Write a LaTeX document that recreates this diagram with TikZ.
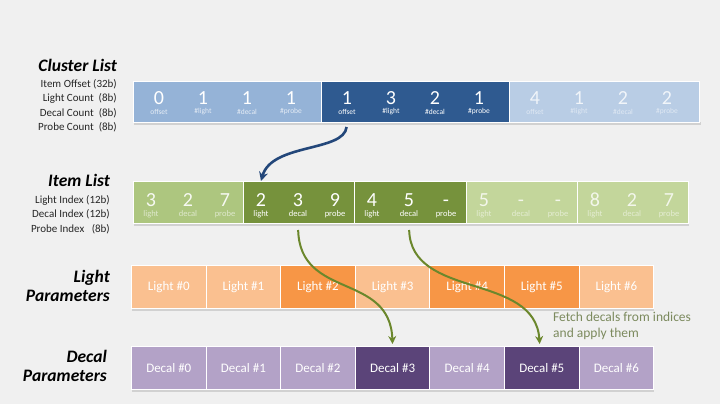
\documentclass[tikz,border=0pt]{standalone}
\usepackage{fontspec}
\setmainfont{Carlito}
\usetikzlibrary{arrows.meta}
\definecolor{bg}{HTML}{F0F0F0}
\definecolor{cA}{HTML}{95B3D7}
\definecolor{cB}{HTML}{2F5A90}
\definecolor{cC}{HTML}{B9CDE5}
\definecolor{iA}{HTML}{ADC67F}
\definecolor{iB}{HTML}{76923C}
\definecolor{iC}{HTML}{C3D69B}
\definecolor{lA}{HTML}{FAC090}
\definecolor{lB}{HTML}{F79646}
\definecolor{dA}{HTML}{B3A2C7}
\definecolor{dB}{HTML}{5B4479}
\definecolor{arB}{HTML}{23477A}
\definecolor{arG}{HTML}{6B872C}
\definecolor{note}{HTML}{7C8A5E}
\tikzset{
  grp/.style={draw=white, line width=1pt, anchor=north west, inner sep=0pt},
  num/.style={text=white, font=\fontsize{20}{20}\selectfont, inner sep=0pt, anchor=base},
  lab/.style={text=white, font=\fontsize{7.5}{8}\selectfont, inner sep=0pt},
  cell/.style={grp, minimum width=74.6pt, minimum height=43pt, text=white, font=\fontsize{13}{14}\selectfont},
  ttl/.style={anchor=east, font=\fontsize{17.5}{19}\bfseries\itshape\selectfont, align=right, inner sep=0pt},
  sublab/.style={anchor=east, font=\fontsize{11}{14.5}\selectfont, align=right, inner sep=0pt, text=black!85},
  shad/.style={fill=black!18},
}
\begin{document}
\begin{tikzpicture}[x=1pt,y=-1pt]
\fill[bg] (0,0) rectangle (720,404);
\useasboundingbox (0,0) rectangle (720,404);

% ---------- Cluster List ----------
\node[ttl] (tcl) at (117,65) {Cluster List};
\node[sublab] (scl) at (117,105.5) {Item Offset (32b)\\Light Count\ \ (8b)\\Decal Count\ \ (8b)\\Probe Count\ \ (8b)};
\fill[shad] (134,122) rectangle (701,125);
\node[grp, fill=cA, minimum width=188pt, minimum height=41pt] (cg1) at (133,81) {};
\node[grp, fill=cB, minimum width=188pt, minimum height=41pt] (cg2) at (321,81) {};
\node[grp, fill=cC, minimum width=190pt, minimum height=41pt] (cg3) at (509,81) {};
\foreach \g/\gx/\op/\vals in {1/133/1/{0,1,1,1}, 2/321/1/{1,3,2,1}, 3/509/0.8/{4,1,2,2}}{
  \foreach \v [count=\i from 0] in \vals {
    \node[num, opacity=\op] (cg\g n\i) at (\gx+26+44*\i,104) {\v};
  }
}
\foreach \g/\gx/\op in {1/133/0.75, 2/321/1, 3/509/0.55}{
  \foreach \t [count=\i from 0] in {offset,\#light,\#decal,\#probe}{
    \node[lab, opacity=\op] (cg\g l\i) at (\gx+26+44*\i,112) {\t};
  }
}

% ---------- Item List ----------
\node[ttl] (til) at (110,180) {Item List};
\node[sublab] (sil) at (110,214.5) {Light Index (12b)\\Decal Index (12b)\\Probe Index\ \ \ (8b)};
\fill[shad] (134,223) rectangle (689,226);
\foreach \g/\gx/\col/\w in {1/133/iA/110, 2/243/iB/111, 3/354/iB/112, 4/466/iC/111, 5/577/iC/111}{
  \node[grp, fill=\col, minimum width=\w pt, minimum height=42pt] (ig\g) at (\gx,181) {};
}
\foreach \g/\gx/\op/\vals in {1/133/0.9/{3,2,7}, 2/243/1/{2,3,9}, 3/354/1/{4,5,-}, 4/466/0.8/{5,-,-}, 5/577/0.8/{8,2,7}}{
  \foreach \v [count=\i from 0] in \vals {
    \node[num, opacity=\op] (ig\g n\i) at (\gx+18+37*\i,206) {\v};
  }
}
\foreach \g/\gx/\op in {1/133/0.6, 2/243/1, 3/354/1, 4/466/0.55, 5/577/0.55}{
  \node[lab, font=\fontsize{8.5}{9}\selectfont, opacity=\op] (ig\g l) at (\gx+18,214) {light};
  \node[lab, font=\fontsize{8.5}{9}\selectfont, opacity=\op] (ig\g d) at (\gx+55,214) {decal};
  \node[lab, font=\fontsize{8.5}{9}\selectfont, opacity=\op] (ig\g p) at (\gx+92,214) {probe};
}

% ---------- Light Parameters ----------
\node[ttl] (tlp) at (110,285.5) {Light\\Parameters};
\fill[shad] (132,308) rectangle (654,311);
\foreach \i/\col in {0/lA,1/lA,2/lB,3/lA,4/lB,5/lB,6/lA}{
  \node[cell, fill=\col] (l\i) at (131+74.6*\i,265) {Light \#\i};
}

% ---------- Decal Parameters ----------
\node[ttl] (tdp) at (107,366) {Decal\\Parameters};
\fill[shad] (132,389) rectangle (654,392);
\foreach \i/\col in {0/dA,1/dA,2/dA,3/dB,4/dA,5/dB,6/dA}{
  \node[cell, fill=\col] (d\i) at (131+74.6*\i,346) {Decal \#\i};
}

% ---------- Arrows ----------
\draw[arB, line width=2.6pt, -{Stealth[length=9pt,width=9pt]}, shorten <=4pt]
  (cg2.south -| cg2n0) .. controls (344,152) and (272,143) .. (ig2.north -| ig2n0);
\draw[arG, line width=2pt, -{Stealth[length=8pt,width=8pt]}, shorten <=6pt, shorten >=2pt]
  (ig2.south -| ig2d) .. controls (300,300) and (390,272) .. (d3.north);
\draw[arG, line width=2pt, -{Stealth[length=8pt,width=8pt]}, shorten <=6pt, shorten >=2pt]
  (ig3.south -| ig3d) .. controls (411,300) and (535,272) .. ([xshift=-2pt]d5.north);

\node[anchor=north west, align=left, text=note, font=\fontsize{13.5}{15.5}\selectfont, inner sep=0pt] (fetch) at (553,312) {Fetch decals from indices\\and apply them};
\end{tikzpicture}
\end{document}
